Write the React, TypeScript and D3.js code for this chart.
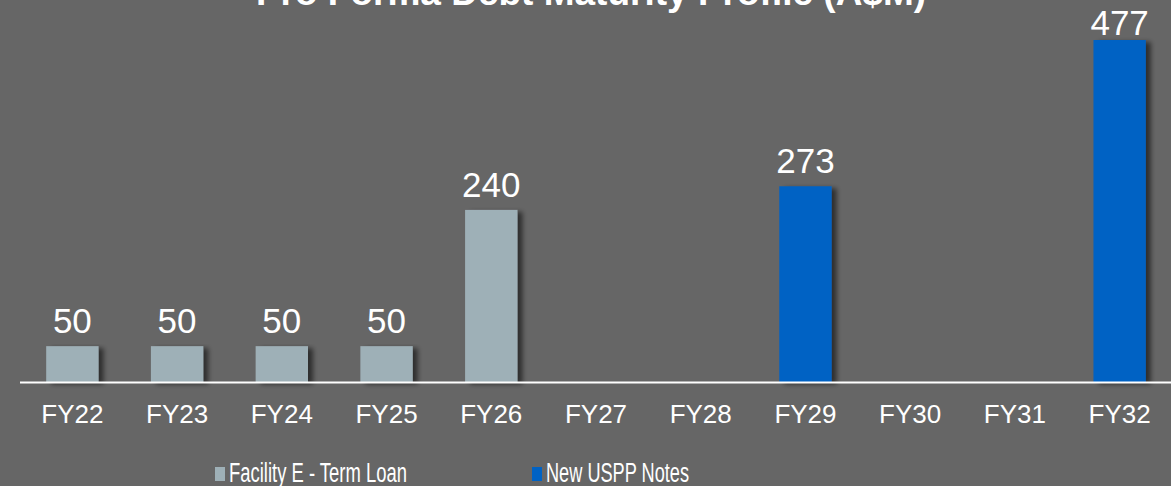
import React from "react";
import * as d3 from "d3";

const categories = ["FY22", "FY23", "FY24", "FY25", "FY26", "FY27", "FY28", "FY29", "FY30", "FY31", "FY32"];
const facilityE = [50, 50, 50, 50, 240, 0, 0, 0, 0, 0, 0];
const newUSPP = [0, 0, 0, 0, 0, 0, 0, 273, 0, 0, 477];
const seriesNames = ["Facility E - Term Loan", "New USPP Notes"];
const seriesColors = ["#9EB0B7", "#0062C4"];
const title = "Pro Forma Debt Maturity Profile (A$M)";

const W = 1171;
const H = 486;

export default function App() {
  const x = d3.scaleBand<string>().domain(categories).range([20, 1172]).paddingInner(0.5).paddingOuter(0.25);
  const y = d3.scaleLinear().domain([0, 477]).range([382, 40]);
  const font = "Arial, 'Liberation Sans', sans-serif";

  const bars: { cat: string; v: number; s: number }[] = [];
  categories.forEach((c, i) => {
    if (facilityE[i] > 0) bars.push({ cat: c, v: facilityE[i], s: 0 });
    if (newUSPP[i] > 0) bars.push({ cat: c, v: newUSPP[i], s: 1 });
  });

  const legendX = [215, 532];

  return (
    <svg width={W} height={H} style={{ position: "absolute", left: 0, top: 0, display: "block" }}>
      <defs>
        <filter id="shadow" x="-30%" y="-10%" width="160%" height="130%">
          <feGaussianBlur in="SourceAlpha" stdDeviation="2.5" />
          <feOffset dx="5" dy="2" result="ob" />
          <feComponentTransfer>
            <feFuncA type="linear" slope="0.55" />
          </feComponentTransfer>
          <feMerge>
            <feMergeNode />
            <feMergeNode in="SourceGraphic" />
          </feMerge>
        </filter>
      </defs>
      <rect x={0} y={0} width={W} height={H} fill="#666666" />
      <text x={591} y={5} textAnchor="middle" fill="#FFFFFF" fontFamily={font} fontWeight="bold" fontSize={37}>
        {title}
      </text>
      {bars.map((b, i) => (
        <rect
          key={"b" + i}
          x={x(b.cat)!}
          y={y(b.v)}
          width={x.bandwidth()}
          height={y(0) - y(b.v)}
          fill={seriesColors[b.s]}
          filter="url(#shadow)"
        />
      ))}
      <line x1={20} x2={W} y1={y(0) + 0.5} y2={y(0) + 0.5} stroke="#FFFFFF" strokeWidth={2} />
      {bars.map((b, i) => (
        <text
          key={"l" + i}
          x={x(b.cat)! + x.bandwidth() / 2}
          y={Math.max(y(b.v) - 13, 35)}
          textAnchor="middle"
          fill="#FFFFFF"
          fontFamily={font}
          fontSize={35}
        >
          {b.v}
        </text>
      ))}
      {categories.map((c) => (
        <text
          key={"t" + c}
          x={x(c)! + x.bandwidth() / 2}
          y={423}
          textAnchor="middle"
          fill="#FFFFFF"
          fontFamily={font}
          fontSize={26}
        >
          {c}
        </text>
      ))}
      {seriesNames.map((n, i) => (
        <g key={"lg" + i}>
          <rect x={legendX[i]} y={467} width={10} height={14} fill={seriesColors[i]} />
          <text
            x={legendX[i] + 14}
            y={482}
            fill="#FFFFFF"
            fontFamily={font}
            fontSize={27}
            textLength={i === 0 ? 178 : 143}
            lengthAdjust="spacingAndGlyphs"
          >
            {n}
          </text>
        </g>
      ))}
    </svg>
  );
}
